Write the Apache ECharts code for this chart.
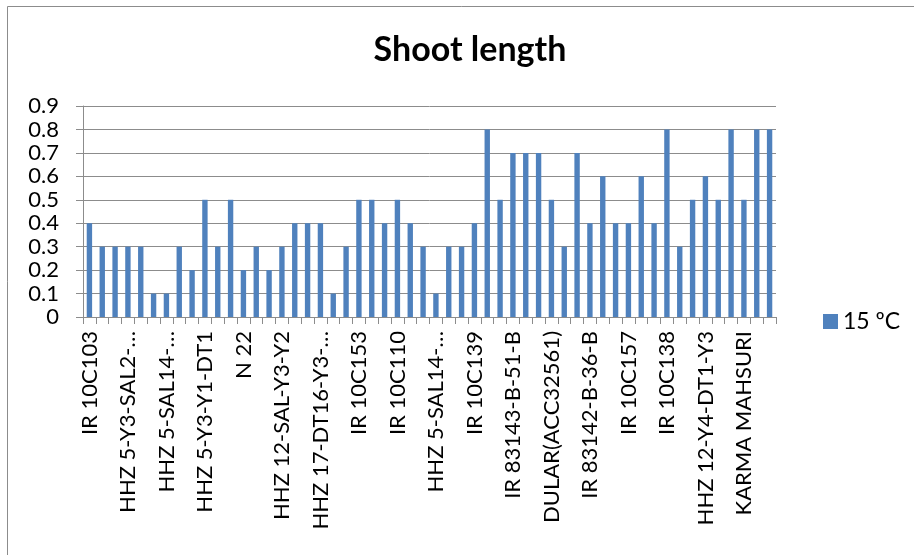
<!DOCTYPE html>
<html>
<head>
<meta charset="utf-8">
<script src="https://cdn.jsdelivr.net/npm/echarts@6/dist/echarts.min.js"></script>
<style>
html,body{margin:0;padding:0;background:#fff;}
#chart{width:914px;height:555px;}
</style>
</head>
<body>
<div id="chart"></div>
<script>
// Visible tick labels (every 3rd category is labelled)
const visibleLabels = [
  "IR 10C103", "HHZ 5-Y3-SAL2-…", "HHZ 5-SAL14-…", "HHZ 5-Y3-Y1-DT1", "N 22",
  "HHZ 12-SAL-Y3-Y2", "HHZ 17-DT16-Y3-…", "IR 10C153", "IR 10C110", "HHZ 5-SAL14-…",
  "IR 10C139", "IR 83143-B-51-B", "DULAR(ACC32561)", "IR 83142-B-36-B", "IR 10C157",
  "IR 10C138", "HHZ 12-Y4-DT1-Y3", "KARMA MAHSURI"
];
const seriesName = "15 ºC";
const values = [
  0.4, 0.3, 0.3, 0.3, 0.3, 0.1, 0.1, 0.3, 0.2, 0.5,
  0.3, 0.5, 0.2, 0.3, 0.2, 0.3, 0.4, 0.4, 0.4, 0.1,
  0.3, 0.5, 0.5, 0.4, 0.5, 0.4, 0.3, 0.1, 0.3, 0.3,
  0.4, 0.8, 0.5, 0.7, 0.7, 0.7, 0.5, 0.3, 0.7, 0.4,
  0.6, 0.4, 0.4, 0.6, 0.4, 0.8, 0.3, 0.5, 0.6, 0.5,
  0.8, 0.5, 0.8, 0.8
];
const categories = values.map((v, i) => (i % 3 === 0 ? visibleLabels[i / 3] : ""));

const FONT = "Lato, sans-serif";
const chart = echarts.init(document.getElementById('chart'));
chart.setOption({
  animation: false,
  backgroundColor: '#ffffff',
  title: {
    text: 'Shoot length',
    left: 465, top: 28, textAlign: 'center',
    textStyle: { fontFamily: FONT, fontSize: 34, fontWeight: 'bold', color: '#000' }
  },
  graphic: [{
    type: 'rect', shape: { x: 7.5, y: 6.5, width: 1000, height: 700 },
    style: { fill: 'none', stroke: '#8c8c8c', lineWidth: 1 }, silent: true, z: -1
  }],
  legend: {
    data: [seriesName], left: 818, top: 305, itemWidth: 15, itemHeight: 15,
    icon: 'rect', textStyle: { fontFamily: FONT, fontSize: 23, color: '#000' }
  },
  grid: { left: 83, top: 106, right: 138, bottom: 238, containLabel: false },
  xAxis: {
    type: 'category', data: categories,
    axisLine: { lineStyle: { color: '#8c8c8c', width: 1 } },
    axisTick: { show: true, interval: 0, length: 7, lineStyle: { color: '#8c8c8c' } },
    axisLabel: { interval: 0, rotate: 90, margin: 14, fontFamily: FONT, fontSize: 22, color: '#000' }
  },
  yAxis: {
    type: 'value', min: 0, max: 0.9, interval: 0.1,
    axisLine: { show: true, lineStyle: { color: '#8c8c8c', width: 1 } },
    axisTick: { show: true, length: 7, lineStyle: { color: '#8c8c8c' } },
    splitLine: { lineStyle: { color: '#8c8c8c', width: 1 } },
    axisLabel: { margin: 24, fontFamily: FONT, fontSize: 22, color: '#000',
      formatter: v => (Math.round(v * 10) / 10).toString() }
  },
  series: [{
    name: seriesName, type: 'bar', data: values, barWidth: '42%',
    itemStyle: { color: '#4F81BD' }
  }]
});
</script>
</body>
</html>
